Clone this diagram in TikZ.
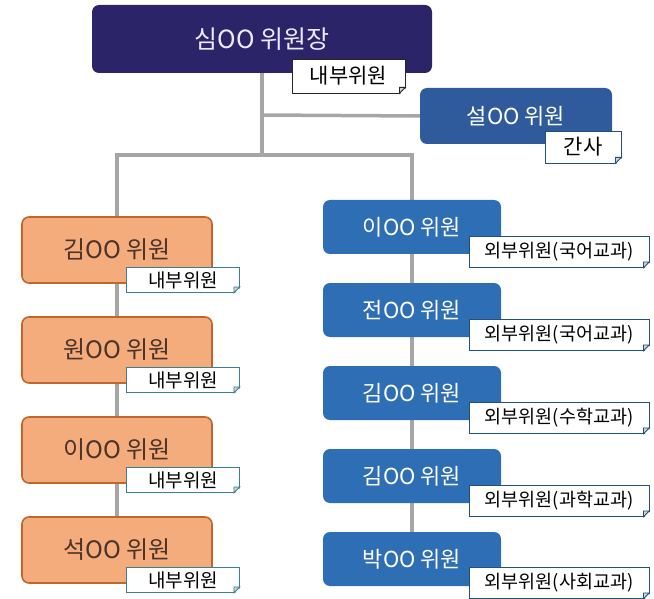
\documentclass[tikz,border=0pt]{standalone}
\usepackage{fontspec}
\setmainfont{Noto Sans CJK KR}
\usetikzlibrary{backgrounds}
\definecolor{chairc}{HTML}{2B2468}
\definecolor{secc}{HTML}{2F5B9C}
\definecolor{bluec}{HTML}{2E6EB5}
\definecolor{orfill}{HTML}{F4AC7D}
\definecolor{ordraw}{HTML}{C0662C}
\definecolor{ortext}{HTML}{4A3328}
\definecolor{linec}{HTML}{A6A6A6}
\definecolor{tealc}{HTML}{3A7F8F}
\definecolor{lblue}{HTML}{234F7E}
\tikzset{
  box/.style={rounded corners=7pt, inner sep=0pt, align=center},
  chairbox/.style={box, fill=chairc, text=white!92!blue, minimum width=340pt, minimum height=68pt, font=\fontsize{25}{27}\selectfont},
  secbox/.style={box, fill=secc, text=white, minimum width=192pt, minimum height=56pt, font=\fontsize{22}{24}\selectfont},
  orbox/.style={box, fill=orfill, draw=ordraw, line width=1.6pt, text=ortext, minimum width=190pt, minimum height=66pt, font=\fontsize{24}{26}\selectfont},
  bluebox/.style={box, fill=bluec, text=white, minimum width=178pt, minimum height=54pt, font=\fontsize{22}{24}\selectfont},
  tag/.style={fill=white, draw=#1, line width=0.8pt, inner sep=0pt, text=black},
  ltag/.style={tag=tealc, minimum width=113pt, minimum height=25pt, font=\fontsize{19}{21}\selectfont},
  rtag/.style={tag=lblue, minimum width=180pt, minimum height=31pt, font=\fontsize{18.5}{20}\selectfont},
  conn/.style={draw=linec, line width=3.5pt}
}
\begin{document}
\begin{tikzpicture}[x=1pt,y=-1pt]
\useasboundingbox (0,0) rectangle (654,599);
% main boxes
\node[chairbox] (chair) at (262,39) {심OO 위원장};
\node[secbox] (sec) at (516,116) {설OO 위원};
\node[orbox] (l1) at (117,250) {김OO 위원};
\node[orbox] (l2) at (117,350) {원OO 위원};
\node[orbox] (l3) at (117,450) {이OO 위원};
\node[orbox] (l4) at (117,550) {석OO 위원};
\node[bluebox] (r1) at (412,227) {이OO 위원};
\node[bluebox] (r2) at (412,310) {전OO 위원};
\node[bluebox] (r3) at (412,393) {김OO 위원};
\node[bluebox] (r4) at (412,476) {김OO 위원};
\node[bluebox] (r5) at (412,559) {박OO 위원};
% tags
\node[tag=black!85, minimum width=113pt, minimum height=34pt, font=\fontsize{21}{23}\selectfont] (tc) at (348.5,76) {내부위원};
\node[tag=lblue, minimum width=76pt, minimum height=32pt, font=\fontsize{21}{23}\selectfont] (ts) at (583,147) {간사};
\node[ltag] (tl1) at (183,280) {\raisebox{1pt}{내부위원}};
\node[ltag] (tl2) at (183,380) {\raisebox{1pt}{내부위원}};
\node[ltag] (tl3) at (183,480) {\raisebox{1pt}{내부위원}};
\node[ltag] (tl4) at (183,580) {\raisebox{1pt}{내부위원}};
\node[rtag] (tr1) at (559,252) {외부위원(국어교과)};
\node[rtag] (tr2) at (559,335) {외부위원(국어교과)};
\node[rtag] (tr3) at (559,418) {외부위원(수학교과)};
\node[rtag] (tr4) at (559,501) {외부위원(과학교과)};
\node[rtag] (tr5) at (559,583) {외부위원(사회교과)};
% folded corners
\foreach \n/\c in {tc/black!85, ts/lblue, tl1/tealc, tl2/tealc, tl3/tealc, tl4/tealc, tr1/lblue, tr2/lblue, tr3/lblue, tr4/lblue, tr5/lblue}{
  \fill[white] ([xshift=-6pt,yshift=-1.2pt]\n.south east) -- ([xshift=1.2pt,yshift=-1.2pt]\n.south east) -- ([xshift=1.2pt,yshift=6pt]\n.south east) -- cycle;
  \draw[draw=\c, line width=0.8pt, fill=gray!35] ([xshift=-6pt]\n.south east) -- ([yshift=6pt]\n.south east) -- ([xshift=-6pt,yshift=6pt]\n.south east) -- cycle;
}
% connectors
\coordinate (j) at (262,155);
\coordinate (sj) at (262,115);
\begin{scope}[on background layer]
\draw[conn] (chair.south) -- (j);
\draw[conn] (sj) -- (sec.west);
\draw[conn, line cap=rect] (l1.north |- j) -- (r1.north |- j);
\draw[conn] (l1.north |- j) -- (l1.north);
\draw[conn] (r1.north |- j) -- (r1.north);
\draw[conn] (l1) -- (l2);
\draw[conn] (l2) -- (l3);
\draw[conn] (l3) -- (l4);
\draw[conn] (r1) -- (r2);
\draw[conn] (r2) -- (r3);
\draw[conn] (r3) -- (r4);
\draw[conn] (r4) -- (r5);
\end{scope}
\end{tikzpicture}
\end{document}
